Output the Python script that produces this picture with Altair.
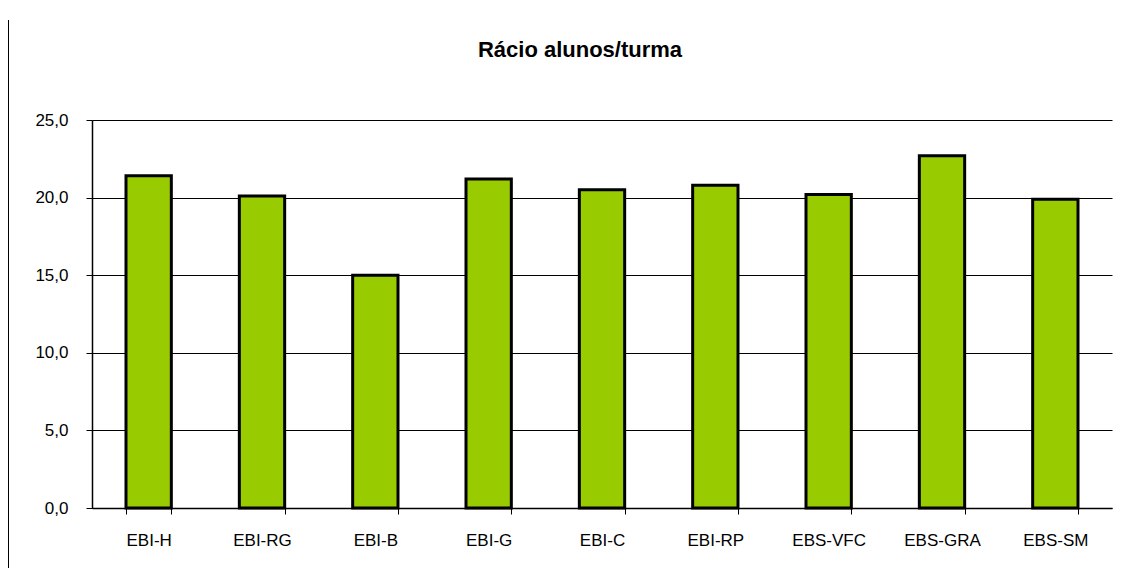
import altair as alt
import pandas as pd

escolas = ["EBI-H", "EBI-RG", "EBI-B", "EBI-G", "EBI-C", "EBI-RP", "EBS-VFC", "EBS-GRA", "EBS-SM"]
racio = [21.4, 20.1, 15.0, 21.2, 20.5, 20.8, 20.2, 22.7, 19.9]

df = pd.DataFrame({"escola": escolas, "racio": racio})

FONT = "Liberation Sans"

bars = alt.Chart(df).mark_bar(
    color="#99CC00", stroke="black", strokeWidth=3
).encode(
    x=alt.X("escola:N", sort=escolas, title=None,
            scale=alt.Scale(paddingInner=0.6, paddingOuter=0.3),
            axis=alt.Axis(labelAngle=0, labelFont=FONT, labelFontSize=17, labelColor="black",
                          labelPadding=18, domainColor="black", domainWidth=1.5,
                          tickColor="black", tickBand="extent", tickSize=6, grid=False)),
    y=alt.Y("racio:Q", title=None,
            scale=alt.Scale(domain=[0, 25]),
            axis=alt.Axis(values=[0, 5, 10, 15, 20, 25],
                          labelExpr="replace(format(datum.value, '.1f'), '.', ',')",
                          labelFont=FONT, labelFontSize=17, labelColor="black",
                          labelPadding=18, tickSize=6, tickColor="black",
                          domainColor="black", domainWidth=1.5,
                          grid=True, gridColor="black", gridWidth=1.2, gridOpacity=1)),
)

frame = alt.Chart(df).mark_rule(color="black", strokeWidth=1).encode(
    x=alt.value(-84), y=alt.value(-100), y2=alt.value(456)
)

chart = alt.layer(bars, frame).properties(
    width=1020, height=388,
    title=alt.TitleParams("Rácio alunos/turma", font=FONT, fontSize=22, fontWeight="bold",
                          color="black", anchor="middle", offset=-42, dx=-22),
    autosize=alt.AutoSizeParams(type="none"),
    padding={"left": 84, "top": 112, "right": 8, "bottom": 60},
).configure_view(stroke=None)

chart.save("out.html", embed_options={"renderer": "svg", "actions": False})
